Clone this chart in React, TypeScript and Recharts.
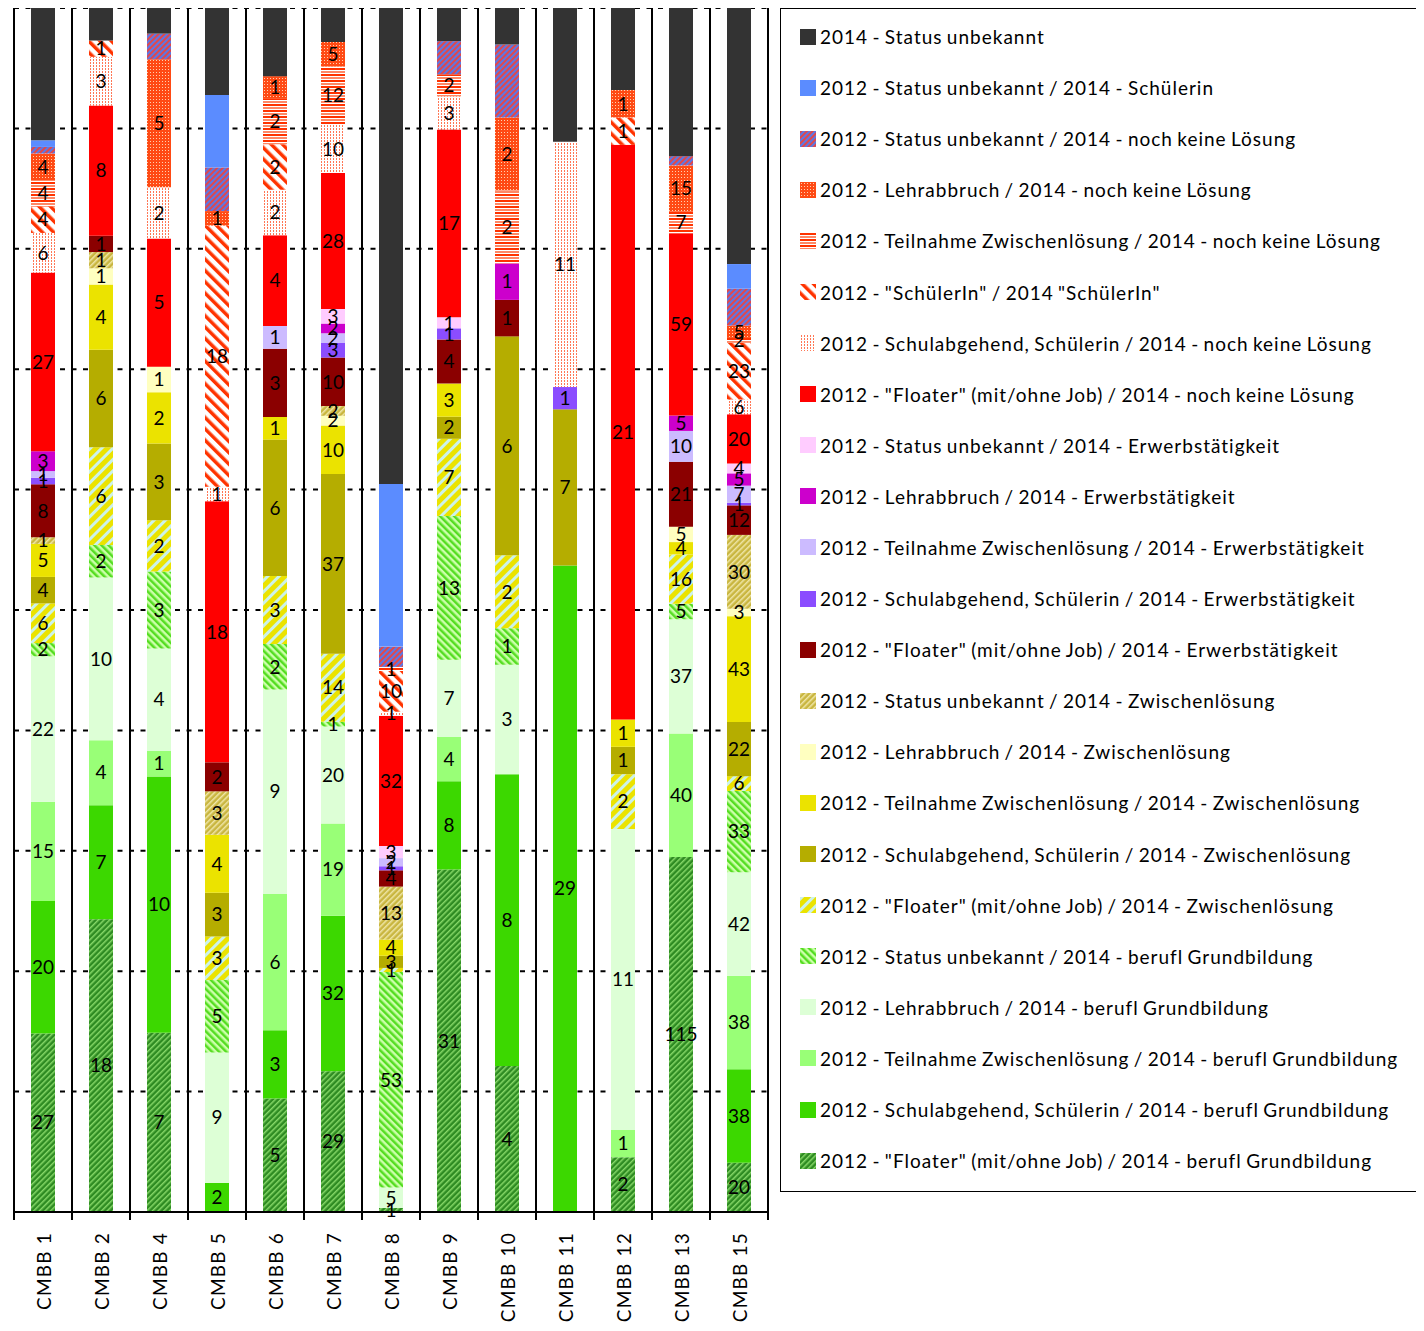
import React from 'react';
import { BarChart, Bar, XAxis, YAxis, CartesianGrid, LabelList } from 'recharts';

const CATEGORIES = [
  'CMBB 1', 'CMBB 2', 'CMBB 4', 'CMBB 5', 'CMBB 6', 'CMBB 7', 'CMBB 8',
  'CMBB 9', 'CMBB 10', 'CMBB 11', 'CMBB 12', 'CMBB 13', 'CMBB 15',
];

// one array per series, values in CATEGORIES order
const unbekannt2014 = [20, 2, 1, 6, 3, 7, 117, 3, 1, 6, 3, 48, 104];
const unbekanntSchuelerin = [1, 0, 0, 5, 0, 0, 40, 0, 0, 0, 0, 0, 10];
const unbekanntKeine = [1, 0, 1, 3, 0, 0, 5, 3, 2, 0, 0, 3, 15];
const lehrabbruchKeine = [4, 0, 5, 1, 1, 5, 0, 0, 2, 0, 1, 15, 5];
const teilnahmeKeine = [4, 0, 0, 0, 2, 12, 1, 2, 2, 0, 0, 7, 2];
const schuelerinSchuelerin = [4, 1, 0, 18, 2, 0, 10, 0, 0, 0, 1, 0, 23];
const schulabgehendKeine = [6, 3, 2, 1, 2, 10, 1, 3, 0, 11, 0, 0, 6];
const floaterKeine = [27, 8, 5, 18, 4, 28, 32, 17, 0, 0, 21, 59, 20];
const unbekanntErwerb = [0, 0, 0, 0, 0, 3, 3, 1, 0, 0, 0, 0, 4];
const lehrabbruchErwerb = [3, 0, 0, 0, 0, 2, 0, 0, 1, 0, 0, 5, 5];
const teilnahmeErwerb = [1, 0, 0, 0, 1, 2, 2, 0, 0, 0, 0, 10, 7];
const schulabgehendErwerb = [1, 0, 0, 0, 0, 3, 1, 1, 0, 1, 0, 0, 1];
const floaterErwerb = [8, 1, 0, 2, 3, 10, 4, 4, 1, 0, 0, 21, 12];
const unbekanntZwischen = [1, 1, 0, 3, 0, 2, 13, 0, 0, 0, 0, 0, 30];
const lehrabbruchZwischen = [0, 1, 1, 0, 0, 2, 0, 0, 0, 0, 0, 5, 3];
const teilnahmeZwischen = [5, 4, 2, 4, 1, 10, 4, 3, 0, 0, 1, 4, 43];
const schulabgehendZwischen = [4, 6, 3, 3, 6, 37, 3, 2, 6, 7, 1, 0, 22];
const floaterZwischen = [6, 6, 2, 3, 3, 14, 1, 7, 2, 0, 2, 16, 6];
const unbekanntBerufl = [2, 2, 3, 5, 2, 1, 53, 13, 1, 0, 0, 5, 33];
const lehrabbruchBerufl = [22, 10, 4, 9, 9, 20, 5, 7, 3, 0, 11, 37, 42];
const teilnahmeBerufl = [15, 4, 1, 0, 6, 19, 0, 4, 0, 0, 1, 40, 38];
const schulabgehendBerufl = [20, 7, 10, 2, 3, 32, 0, 8, 8, 29, 0, 0, 38];
const floaterBerufl = [27, 18, 7, 0, 5, 29, 1, 31, 4, 0, 2, 115, 20];

// legend order (top of the stack first)
const SERIES = [
  { key: 's1', name: '2014 - Status unbekannt', values: unbekannt2014, fill: '#333333', label: false },
  { key: 's2', name: '2012 - Status unbekannt / 2014 - Schülerin', values: unbekanntSchuelerin, fill: '#5b8cff', label: false },
  { key: 's3', name: '2012 - Status unbekannt / 2014 - noch keine Lösung', values: unbekanntKeine, fill: 'url(#pUnbKeine)', label: false },
  { key: 's4', name: '2012 - Lehrabbruch / 2014 - noch keine Lösung', values: lehrabbruchKeine, fill: 'url(#pLehrKeine)', label: true },
  { key: 's5', name: '2012 - Teilnahme Zwischenlösung / 2014 - noch keine Lösung', values: teilnahmeKeine, fill: 'url(#pTeilKeine)', label: true },
  { key: 's6', name: '2012 - "SchülerIn" / 2014 "SchülerIn"', values: schuelerinSchuelerin, fill: 'url(#pSchueler)', label: true },
  { key: 's7', name: '2012 - Schulabgehend, Schülerin / 2014 - noch keine Lösung', values: schulabgehendKeine, fill: 'url(#pSchulKeine)', label: true },
  { key: 's8', name: '2012 - "Floater" (mit/ohne Job) / 2014 - noch keine Lösung', values: floaterKeine, fill: '#ff0000', label: true },
  { key: 's9', name: '2012 - Status unbekannt / 2014 - Erwerbstätigkeit', values: unbekanntErwerb, fill: '#ffccff', label: true },
  { key: 's10', name: '2012 - Lehrabbruch / 2014 - Erwerbstätigkeit', values: lehrabbruchErwerb, fill: '#cc00cc', label: true },
  { key: 's11', name: '2012 - Teilnahme Zwischenlösung / 2014 - Erwerbstätigkeit', values: teilnahmeErwerb, fill: '#ccbbff', label: true },
  { key: 's12', name: '2012 - Schulabgehend, Schülerin / 2014 - Erwerbstätigkeit', values: schulabgehendErwerb, fill: '#8b4dff', label: true },
  { key: 's13', name: '2012 - "Floater" (mit/ohne Job) / 2014 - Erwerbstätigkeit', values: floaterErwerb, fill: '#8b0000', label: true },
  { key: 's14', name: '2012 - Status unbekannt / 2014 - Zwischenlösung', values: unbekanntZwischen, fill: 'url(#pUnbZw)', label: true },
  { key: 's15', name: '2012 - Lehrabbruch / 2014 - Zwischenlösung', values: lehrabbruchZwischen, fill: '#ffffc0', label: true },
  { key: 's16', name: '2012 - Teilnahme Zwischenlösung / 2014 - Zwischenlösung', values: teilnahmeZwischen, fill: '#ebe300', label: true },
  { key: 's17', name: '2012 - Schulabgehend, Schülerin / 2014 - Zwischenlösung', values: schulabgehendZwischen, fill: '#b5ad00', label: true },
  { key: 's18', name: '2012 - "Floater" (mit/ohne Job) / 2014 - Zwischenlösung', values: floaterZwischen, fill: 'url(#pFloatZw)', label: true },
  { key: 's19', name: '2012 - Status unbekannt / 2014 - berufl Grundbildung', values: unbekanntBerufl, fill: 'url(#pUnbBer)', label: true },
  { key: 's20', name: '2012 - Lehrabbruch / 2014 - berufl Grundbildung', values: lehrabbruchBerufl, fill: '#ddffd6', label: true },
  { key: 's21', name: '2012 - Teilnahme Zwischenlösung / 2014 - berufl Grundbildung', values: teilnahmeBerufl, fill: '#99ff77', label: true },
  { key: 's22', name: '2012 - Schulabgehend, Schülerin / 2014 - berufl Grundbildung', values: schulabgehendBerufl, fill: '#3cd800', label: true },
  { key: 's23', name: '2012 - "Floater" (mit/ohne Job) / 2014 - berufl Grundbildung', values: floaterBerufl, fill: 'url(#pFloatBer)', label: true },
];

const data = CATEGORIES.map((name, i) => {
  const row: any = { name };
  SERIES.forEach((s) => { row[s.key] = s.values[i]; });
  return row;
});

const FONT = 'Lato, "Open Sans", sans-serif';
const Y_TICKS = Array.from({ length: 51 }, (_, i) => Number((i * 0.02).toFixed(2)));
const PLOT_WIDTH = 754;

const PatternDefs = () => (
  <svg width={0} height={0} style={{ position: 'absolute' }}>
    <defs>
      <pattern id="pUnbKeine" width="4" height="4" patternUnits="userSpaceOnUse" patternTransform="rotate(45)">
        <rect width="4" height="4" fill="#5b78e6" />
        <rect width="2" height="4" fill="#e0484c" />
      </pattern>
      <pattern id="pLehrKeine" width="3" height="3" patternUnits="userSpaceOnUse">
        <rect width="3" height="3" fill="#ff4a14" />
        <rect x="1" y="1" width="1" height="1" fill="#ffd0b0" />
      </pattern>
      <pattern id="pTeilKeine" width="6" height="6" patternUnits="userSpaceOnUse">
        <rect width="6" height="6" fill="#ffffff" />
        <rect y="0" width="6" height="2" fill="#ff3300" />
        <rect y="3" width="6" height="2" fill="#ff8866" />
      </pattern>
      <pattern id="pSchueler" width="8" height="8" patternUnits="userSpaceOnUse" patternTransform="rotate(-45)">
        <rect width="8" height="8" fill="#ffffff" />
        <rect width="3.5" height="8" fill="#ff3300" />
      </pattern>
      <pattern id="pSchulKeine" width="3" height="3" patternUnits="userSpaceOnUse">
        <rect width="3" height="3" fill="#ffffff" />
        <rect x="1" y="0" width="1" height="2" fill="#ff7755" />
      </pattern>
      <pattern id="pUnbZw" width="4" height="4" patternUnits="userSpaceOnUse" patternTransform="rotate(45)">
        <rect width="4" height="4" fill="#c9b640" />
        <rect width="1.5" height="4" fill="#efe6a8" />
      </pattern>
      <pattern id="pFloatZw" width="8" height="8" patternUnits="userSpaceOnUse" patternTransform="rotate(45)">
        <rect width="8" height="8" fill="#ebe300" />
        <rect width="3" height="8" fill="#ccf2ea" />
      </pattern>
      <pattern id="pUnbBer" width="5" height="5" patternUnits="userSpaceOnUse" patternTransform="rotate(-45)">
        <rect width="5" height="5" fill="#ccffaa" />
        <rect width="2.5" height="5" fill="#55dd22" />
      </pattern>
      <pattern id="pFloatBer" width="4" height="4" patternUnits="userSpaceOnUse" patternTransform="rotate(45)">
        <rect width="4" height="4" fill="#2e8b22" />
        <rect width="1.5" height="4" fill="#86d868" />
      </pattern>
    </defs>
  </svg>
);

const CategoryTick = (props: any) => {
  const { x, y, payload, index } = props;
  const half = PLOT_WIDTH / CATEGORIES.length / 2;
  return (
    <g>
      <line x1={x - half} y1={y - 12} x2={x - half} y2={y} stroke="#000" strokeWidth={2} />
      {index === CATEGORIES.length - 1 && (
        <line x1={x + half} y1={y - 12} x2={x + half} y2={y} stroke="#000" strokeWidth={2} />
      )}
      <text
        x={x}
        y={y + 12}
        transform={`rotate(-90 ${x} ${y + 12})`}
        textAnchor="end"
        dominantBaseline="central"
        fontSize={19}
        fontFamily={FONT}
        letterSpacing={1.2}
        fill="#000"
      >
        {payload.value}
      </text>
    </g>
  );
};

const hideZero = (v: any) => (v ? v : '');

const Legend = () => (
  <div
    style={{
      position: 'absolute',
      left: 772,
      top: 0,
      width: 638,
      height: 1184,
      border: '1.5px solid #000',
      boxSizing: 'border-box',
      paddingTop: 2,
      fontFamily: FONT,
      fontSize: 19,
      letterSpacing: 1,
      wordSpacing: -1.5,
    }}
  >
    {SERIES.map((s) => (
      <div key={s.key} style={{ display: 'flex', alignItems: 'center', height: 51.1, paddingLeft: 19 }}>
        <svg width={16} height={16} style={{ marginRight: 4, flex: 'none' }}>
          <rect width={16} height={16} fill={s.fill} />
        </svg>
        <span style={{ whiteSpace: 'nowrap' }}>{s.name}</span>
      </div>
    ))}
  </div>
);

export default function App() {
  return (
    <div style={{ position: 'relative', width: 1408, height: 1323 }}>
      <PatternDefs />
      <BarChart
        width={772}
        height={1323}
        data={data}
        stackOffset="expand"
        barSize={24}
        margin={{ top: 0, right: 12, bottom: 0, left: 6 }}
      >
        <CartesianGrid
          vertical={false}
          stroke="#000"
          strokeWidth={2}
          strokeDasharray="5 6.5"
          horizontalCoordinatesGenerator={({ offset }: any) =>
            Array.from({ length: 11 }, (_, i) => offset.top + (i * offset.height) / 10)
          }
        />
        <CartesianGrid
          horizontal={false}
          stroke="#000"
          strokeWidth={2}
          verticalCoordinatesGenerator={({ offset }: any) =>
            Array.from({ length: CATEGORIES.length + 1 }, (_, i) => offset.left + (i * offset.width) / CATEGORIES.length)
          }
        />
        <XAxis
          dataKey="name"
          height={119}
          interval={0}
          tickLine={false}
          axisLine={{ stroke: '#000', strokeWidth: 2 }}
          tick={<CategoryTick />}
        />
        <YAxis
          type="number"
          domain={[0, 1]}
          ticks={Y_TICKS}
          width={0}
          mirror
          tickSize={5}
          tick={() => <g />}
          tickLine={{ stroke: '#000', strokeWidth: 2 }}
          axisLine={{ stroke: '#000', strokeWidth: 2 }}
        />
        {[...SERIES].reverse().map((s) => (
          <Bar key={s.key} dataKey={s.key} name={s.name} stackId="a" fill={s.fill} isAnimationActive={false}>
            {s.label && (
              <LabelList
                dataKey={s.key}
                position="center"
                formatter={hideZero}
                fill="#000"
                fontSize={19}
                fontFamily={FONT}
              />
            )}
          </Bar>
        ))}
      </BarChart>
      <Legend />
    </div>
  );
}
